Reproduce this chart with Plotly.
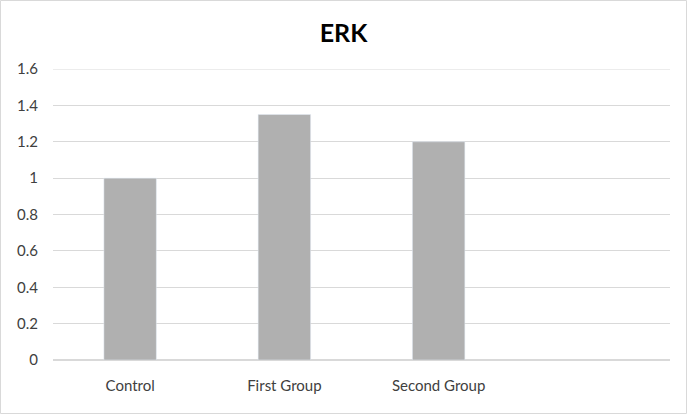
import plotly.graph_objects as go

categories = ["Control", "First Group", "Second Group"]
values = [1.0, 1.35, 1.2]
y_ticks = [0, 0.2, 0.4, 0.6, 0.8, 1.0, 1.2, 1.4, 1.6]
y_tick_labels = ["0", "0.2", "0.4", "0.6", "0.8", "1", "1.2", "1.4", "1.6"]

W, H = 687, 414
ml, mr, mt, mb = 53, 17, 69, 54
pw, ph = W - ml - mr, H - mt - mb

fig = go.Figure()
fig.add_trace(go.Bar(x=categories, y=values, marker_color="#b0b0b0", width=0.34))

fig.update_layout(
    width=W, height=H,
    margin=dict(l=ml, r=mr, t=mt, b=mb),
    paper_bgcolor="white", plot_bgcolor="white",
    font=dict(family="Lato, Open Sans, sans-serif", color="#404040", size=15),
    title=dict(text="<b>ERK</b>", x=0.5, xanchor="center", y=1 - 33 / H, yanchor="middle",
               font=dict(size=25, color="#000000")),
    showlegend=False,
    xaxis=dict(type="category", range=[-0.5, 3.5], showgrid=False, showline=False,
               ticks="", ticklabelstandoff=15, tickfont=dict(size=15, color="#404040")),
    yaxis=dict(range=[0, y_ticks[-1]], tickvals=y_ticks, ticktext=y_tick_labels, showgrid=True,
               gridcolor="#d9d9d9", gridwidth=1, zeroline=True, zerolinecolor="#d9d9d9",
               showline=False, ticks="", ticklabelstandoff=14,
               tickfont=dict(size=15, color="#404040")),
)

# top gridline (plotly hides gridlines lying on the axis edge)
fig.add_shape(type="line", xref="paper", yref="y", x0=0, x1=1,
              y0=y_ticks[-1], y1=y_ticks[-1], line=dict(color="#d9d9d9", width=1), layer="below")

fig.add_shape(type="rect", xref="paper", yref="paper",
              x0=(0.5 - ml) / pw, x1=(W - 0.5 - ml) / pw,
              y0=-(mb - 0.5) / ph, y1=(H - mb - 0.5) / ph,
              line=dict(color="#d9d9d9", width=1), fillcolor="rgba(0,0,0,0)", layer="below")

fig.write_html("out.html", config={"displayModeBar": False},
               post_script="document.body.style.margin='0';")
